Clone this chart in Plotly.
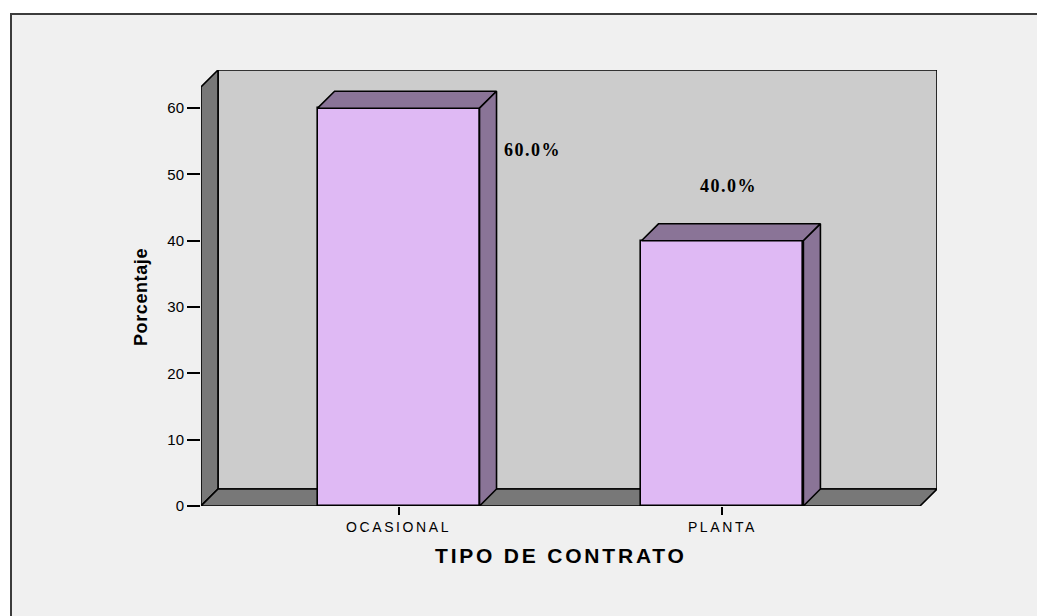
import plotly.graph_objects as go

# ---- data ----
categories = ["OCASIONAL", "PLANTA"]
percentages = [60.0, 40.0]
y_ticks = [0, 10, 20, 30, 40, 50, 60]
x_title = "TIPO DE CONTRATO"
y_title = "Porcentaje"

# ---- style / geometry constants ----
BAR_W = 0.5
DX = 0.0525          # depth offset in x data units
DY = 2.56            # depth offset in y data units
X_LEFT, X_RIGHT = -0.61, 1.61
WALL_TOP = 63.2
LABEL_OFFSETS = [(0.415, 53.7), (0.018, 48.3)]  # label anchor (dx from bar center, y)

C_FRAME = "#F0F0F0"
C_BACK = "#CCCCCC"
C_WALL = "#787878"
C_BAR = "#DFB9F4"
C_BAR_DARK = "#8A7497"
LW = 1.6

xs = list(range(len(categories)))

fig = go.Figure()

# front faces of the bars
fig.add_trace(go.Bar(
    x=xs, y=percentages, width=BAR_W,
    marker=dict(color=C_BAR, line=dict(color="black", width=LW)),
    hoverinfo="skip", showlegend=False,
))

# top and side faces
top_x, top_y, side_x, side_y = [], [], [], []
for x, v in zip(xs, percentages):
    l, r = x - BAR_W / 2, x + BAR_W / 2
    top_x += [l, l + DX, r + DX, r, l, None]
    top_y += [v, v + DY, v + DY, v, v, None]
    side_x += [r, r + DX, r + DX, r, r, None]
    side_y += [0, DY, v + DY, v, 0, None]
for px_, py_ in ((top_x, top_y), (side_x, side_y)):
    fig.add_trace(go.Scatter(
        x=px_, y=py_, mode="lines", fill="toself", fillcolor=C_BAR_DARK,
        line=dict(color="black", width=LW), hoverinfo="skip", showlegend=False,
    ))

def path(pts):
    return "M " + " L ".join(f"{a},{b}" for a, b in pts) + " Z"

shapes = [
    # outer frame
    dict(type="rect", xref="paper", yref="paper",
         x0=(11 - 201) / 736, x1=(1060 - 201) / 736,
         y0=(506 - 640) / 436, y1=(506 - 14) / 436,
         fillcolor=C_FRAME, line=dict(color="#3C3C3C", width=2), layer="below"),
    # back wall
    dict(type="path", xref="x", yref="y",
         path=path([(X_LEFT + DX, DY), (X_RIGHT + DX, DY), (X_RIGHT + DX, WALL_TOP + DY), (X_LEFT + DX, WALL_TOP + DY)]),
         fillcolor=C_BACK, line=dict(color="black", width=LW), layer="below"),
    # left wall
    dict(type="path", xref="x", yref="y",
         path=path([(X_LEFT, 0), (X_LEFT + DX, DY), (X_LEFT + DX, WALL_TOP + DY), (X_LEFT, WALL_TOP)]),
         fillcolor=C_WALL, line=dict(color="black", width=LW), layer="below"),
    # floor
    dict(type="path", xref="x", yref="y",
         path=path([(X_LEFT, 0), (X_RIGHT, 0), (X_RIGHT + DX, DY), (X_LEFT + DX, DY)]),
         fillcolor=C_WALL, line=dict(color="black", width=LW), layer="below"),
]

annotations = []
for x, v, (ox, oy) in zip(xs, percentages, LABEL_OFFSETS):
    annotations.append(dict(
        x=x + ox, y=oy, xref="x", yref="y", showarrow=False,
        text=f'<b><span style="letter-spacing:1.5px">{v:.1f}%</span></b>',
        font=dict(family="Liberation Serif", size=18, color="black"),
    ))
annotations.append(dict(
    x=(X_LEFT + X_RIGHT) / 2, y=(506 - 555) / 436, xref="x", yref="paper",
    showarrow=False, yanchor="middle",
    text=f'<b><span style="letter-spacing:2.8px">{x_title}</span></b>',
    font=dict(family="Liberation Sans", size=21, color="black"),
))
annotations.append(dict(
    x=(141 - 201) / 736, y=(506 - 297) / 436, xref="paper", yref="paper",
    showarrow=False, textangle=-90, xanchor="center", yanchor="middle",
    text=f'<b><span style="letter-spacing:0.6px">{y_title}</span></b>',
    font=dict(family="Liberation Sans", size=18, color="black"),
))

fig.update_layout(
    width=1037, height=616,
    margin=dict(l=201, r=100, t=70, b=110),
    paper_bgcolor="white", plot_bgcolor="rgba(0,0,0,0)",
    shapes=shapes, annotations=annotations,
    showlegend=False, bargap=0,
    xaxis=dict(
        range=[X_LEFT, X_RIGHT + DX], showgrid=False, zeroline=False, showline=False,
        tickvals=xs,
        ticktext=[f'<span style="letter-spacing:2.6px">{c}</span>' for c in categories],
        ticks="outside", ticklen=8, tickwidth=1.5, tickcolor="black",
        tickfont=dict(family="Liberation Sans", size=14, color="black"),
        fixedrange=True,
    ),
    yaxis=dict(
        range=[0, WALL_TOP + DY], showgrid=False, zeroline=False, showline=False,
        tickvals=y_ticks, ticks="outside", ticklen=13, tickwidth=1.5, tickcolor="black",
        tickfont=dict(family="Liberation Sans", size=15, color="black"),
        fixedrange=True,
    ),
)

fig.write_html("out.html", config={"displayModeBar": False},
               post_script="document.body.style.margin='0';")
